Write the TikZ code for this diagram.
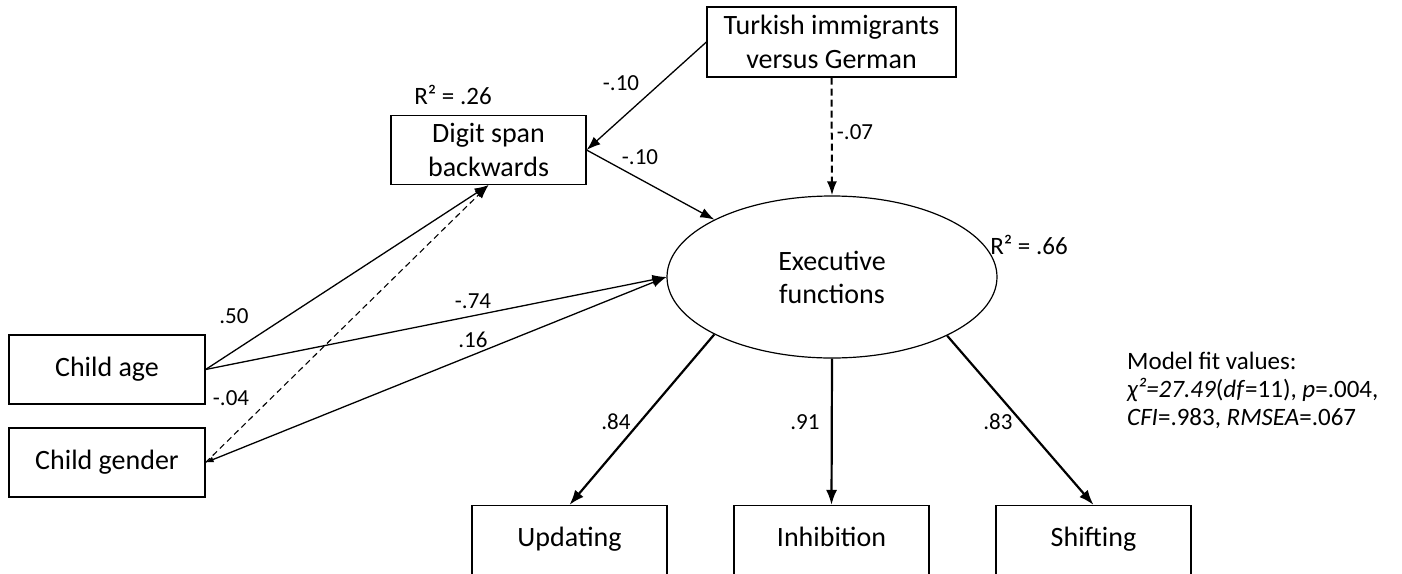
\documentclass[tikz,border=0pt]{standalone}
\usepackage{fontspec}
\setmainfont{Carlito}
\usetikzlibrary{shapes.geometric,arrows.meta}
\tikzset{
  obsbox/.style={draw, line width=1.2pt, minimum width=195pt, minimum height=69pt,
    inner sep=0pt, align=center, font=\fontsize{28}{34}\selectfont},
  onebox/.style={obsbox, text height=19pt, text depth=6pt},
  latent/.style={draw, ellipse, line width=1.2pt, minimum width=330pt, minimum height=162pt,
    inner sep=0pt, align=center, font=\fontsize{28}{33}\selectfont},
  coef/.style={inner sep=0pt, font=\fontsize{23}{26}\selectfont},
  rsq/.style={inner sep=0pt, font=\fontsize{25}{28}\selectfont},
  effect/.style={line width=1.3pt, -{Latex[length=14pt,width=10pt]}},
  loadarrow/.style={line width=2.2pt, -{Latex[length=15pt,width=11pt]}},
}
\begin{document}
\begin{tikzpicture}[x=1pt, y=-1pt]
      \useasboundingbox (0,0) rectangle (1402,573);
      \node[obsbox, minimum width=249pt, minimum height=70pt] (turkish) at (831.5,42) {Turkish immigrants\\versus German};
      \node[obsbox] (digit) at (488.5,150) {Digit span\\backwards};
      \node[onebox, minimum width=196pt] (childage) at (107,369.5) {Child age};
      \node[onebox, minimum width=196pt] (childgender) at (107,462.5) {Child gender};
      \node[latent] (ef) at (832,277) {Executive\\functions};
      \node[onebox] (updating) at (569.5,540) {Updating};
      \node[onebox] (inhibition) at (831.5,540) {Inhibition};
      \node[onebox] (shifting) at (1093.5,540) {Shifting};
      % coefficients
      \node[rsq] (rdigit) at (453,95) {R² = .26};
      \node[rsq] (ref) at (1029,245) {R² = .66};
      \node[coef] (ctd) at (621,83) {-.10};
      \node[coef] (cde) at (640,157) {-.10};
      \node[coef] (cte) at (855,132) {-.07};
      \node[coef] (cad) at (234,316) {.50};
      \node[coef] (cae) at (473,301) {-.74};
      \node[coef] (cge) at (473,340) {.16};
      \node[coef] (cgd) at (231,398) {-.04};
      \node[coef] (cup) at (616,422) {.84};
      \node[coef] (cin) at (805,422) {.91};
      \node[coef] (csh) at (998,422) {.83};
      \node[rsq, anchor=west, align=left] (fit) at (1127,390)
        {Model fit values:\\\textit{χ²=27.49}(\textit{df}=11), \textit{p}=.004,\\\textit{CFI}=.983, \textit{RMSEA}=.067};
      \begin{scope}[effect]
        \draw (childage.east) to (digit.south);
        \draw (childage.east) to (ef.west);
        \draw[line width=1.1pt, dash pattern=on 6pt off 4pt] (childgender.east) to (digit.south);
        \draw[{Latex[length=8pt,width=6pt]}-{Latex[length=14pt,width=10pt]}] (childgender.east) to (ef.west);
        \draw (turkish.west) to (digit.east);
        \draw (digit.east) to (ef.154);
        \draw[line width=2pt, dash pattern=on 7pt off 4pt] (turkish.south) to (ef.north);
      \end{scope}
      \begin{scope}[loadarrow]
        \draw (ef.206) to (updating.north);
        \draw (ef.south) to (inhibition.north);
        \draw (ef.333) to (shifting.north);
      \end{scope}
    \end{tikzpicture}
\end{document}
